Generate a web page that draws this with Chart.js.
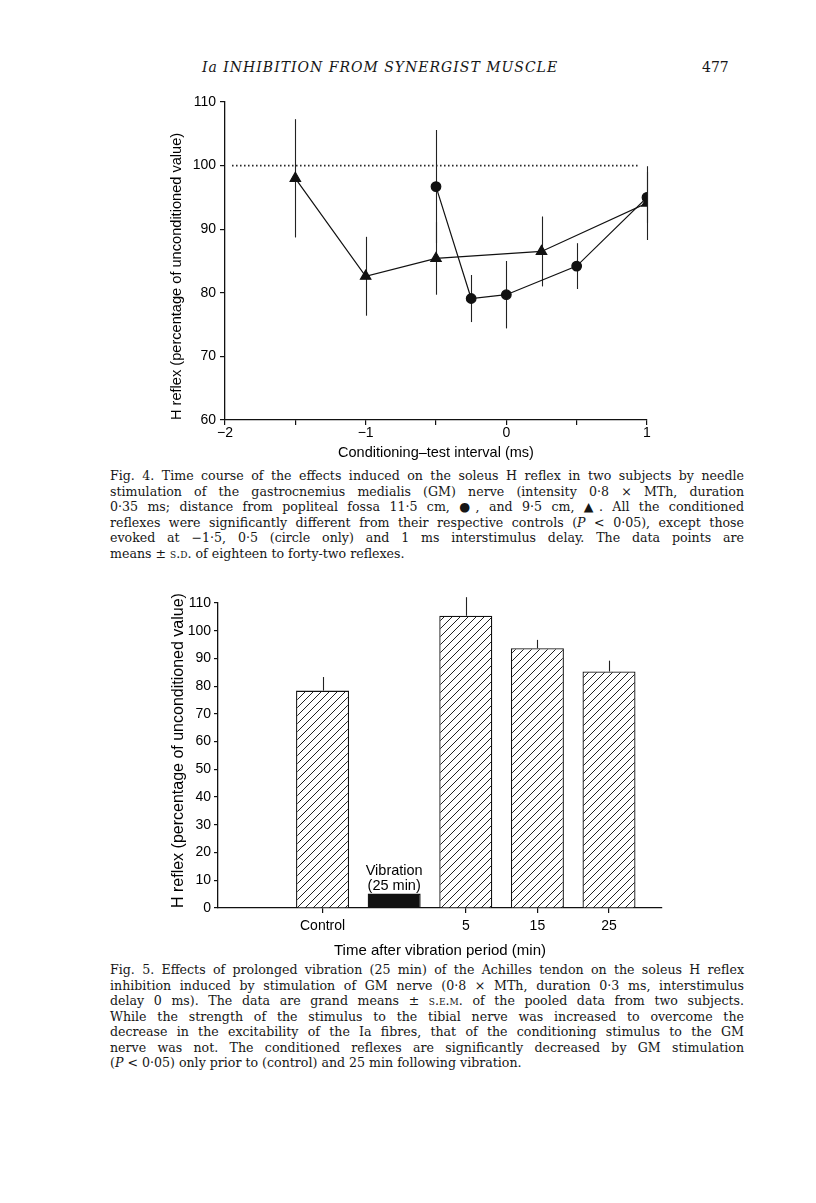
<!DOCTYPE html>
<html>
<head>
<meta charset="utf-8">
<script src="https://cdn.jsdelivr.net/npm/chart.js@4.4.0/dist/chart.umd.min.js"></script>
<style>
  body { margin: 0; background: #fff; width: 816px; height: 1203px; position: relative; overflow: hidden;
         font-family: "DejaVu Serif", serif; color: #161616; }
  .hdr { position: absolute; top: 58px; font-size: 14px; line-height: 18px; }
  .box { position: absolute; }
  .cap { position: absolute; left: 110px; width: 634px; font-size: 12.6px; line-height: 15.5px; }
  .cap div { white-space: nowrap; text-align: justify; text-align-last: justify; }
  .cap div.last { text-align-last: left; }
  .sc { font-variant: small-caps; }
</style>
</head>
<body>
<div class="hdr" style="left:202px;font-style:italic;letter-spacing:1px;">Ia INHIBITION FROM SYNERGIST MUSCLE</div>
<div class="hdr" style="left:702px;">477</div>

<div class="box" style="left:150px;top:80px;"><canvas id="fig4" width="530" height="385"></canvas></div>

<div class="cap" style="top:468px;">
  <div>Fig. 4. Time course of the effects induced on the soleus H reflex in two subjects by needle</div>
  <div>stimulation of the gastrocnemius medialis (GM) nerve (intensity 0·8 × MTh, duration</div>
  <div>0·35 ms; distance from popliteal fossa 11·5 cm, ●, and 9·5 cm, ▲. All the conditioned</div>
  <div>reflexes were significantly different from their respective controls (<i>P</i> &lt; 0·05), except those</div>
  <div>evoked at −1·5, 0·5 (circle only) and 1 ms interstimulus delay. The data points are</div>
  <div class="last">means ± <span class="sc">s.d.</span> of eighteen to forty-two reflexes.</div>
</div>

<div class="box" style="left:140px;top:585px;"><canvas id="fig5" width="540" height="375"></canvas></div>

<div class="cap" style="top:962px;">
  <div>Fig. 5. Effects of prolonged vibration (25 min) of the Achilles tendon on the soleus H reflex</div>
  <div>inhibition induced by stimulation of GM nerve (0·8 × MTh, duration 0·3 ms, interstimulus</div>
  <div>delay 0 ms). The data are grand means ± <span class="sc">s.e.m.</span> of the pooled data from two subjects.</div>
  <div>While the strength of the stimulus to the tibial nerve was increased to overcome the</div>
  <div>decrease in the excitability of the Ia fibres, that of the conditioning stimulus to the GM</div>
  <div>nerve was not. The conditioned reflexes are significantly decreased by GM stimulation</div>
  <div class="last">(<i>P</i> &lt; 0·05) only prior to (control) and 25 min following vibration.</div>
</div>

<script>
// Fig. 4 - triangles (9.5 cm), circles (11.5 cm), means and SD
const triX = [-1.5, -1, -0.5, 0.25, 1];
const triY = [98.0, 82.6, 85.4, 86.5, 94.1];
const triSD = [9.3, 6.2, 5.7, 5.5, 5.8];
const circX = [-0.5, -0.25, 0, 0.5, 1];
const circY = [96.7, 79.1, 79.7, 84.2, 95.0];
const circSD = [8.9, 3.7, 5.3, 3.6, 4.0];
const refX = [-1.95, 0.95];
const refY = [100, 100];

// Fig. 5 - bars, grand means and SEM
const categories = ['Control', 'Vibration', '5', '15', '25'];
const barPos = [1, 2, 3, 4, 5];
const barValues = [78.4, 5.2, 105.4, 93.7, 85.3];
const barSEM = [4.9, 0, 6.7, 3.0, 3.9];
const labelledPos = [1, 3, 4, 5];

const ink = '#111';
const tickFont = { family: 'Liberation Sans', size: 14 };

function pts(xs, ys) {
    return xs.map((x, i) => ({ x: x, y: ys[i] }));
}

function minusLabel(v) {
    if (!Number.isInteger(v)) return '';
    return v < 0 ? '\u2212' + (-v) : String(v);
}

// vertical error bars, drawn under the markers
const errorBars = {
    id: 'errorBars',
    beforeDatasetsDraw(chart) {
        const ctx = chart.ctx;
        const y = chart.scales.y;
        ctx.save();
        ctx.strokeStyle = '#222';
        ctx.lineWidth = 1.1;
        chart.data.datasets.forEach((ds, i) => {
            if (!ds.err) return;
            const meta = chart.getDatasetMeta(i);
            meta.data.forEach((el, j) => {
                const v = ds.data[j].y;
                const e = ds.err[j];
                if (!e) return;
                const lo = ds.upOnly ? v : v - e;
                ctx.beginPath();
                ctx.moveTo(Math.round(el.x) + 0.5, y.getPixelForValue(lo));
                ctx.lineTo(Math.round(el.x) + 0.5, y.getPixelForValue(v + e));
                ctx.stroke();
            });
        });
        ctx.restore();
    }
};

new Chart(document.getElementById('fig4'), {
    type: 'line',
    data: {
        datasets: [
            {
                data: pts(refX, refY),
                borderColor: '#222', borderWidth: 1.6, borderDash: [1.5, 2.5],
                pointRadius: 0
            },
            {
                data: pts(triX, triY), err: triSD,
                borderColor: ink, borderWidth: 1.2,
                pointStyle: 'triangle', pointRadius: 6,
                pointBackgroundColor: ink, pointBorderColor: ink
            },
            {
                data: pts(circX, circY), err: circSD,
                borderColor: ink, borderWidth: 1.2,
                pointStyle: 'circle', pointRadius: 4.8,
                pointBackgroundColor: ink, pointBorderColor: ink
            }
        ]
    },
    options: {
        responsive: false,
        animation: false,
        layout: { padding: { top: 22, right: 33, left: 0, bottom: 0 } },
        plugins: { legend: { display: false }, tooltip: { enabled: false } },
        scales: {
            x: {
                type: 'linear', min: -2, max: 1,
                ticks: { stepSize: 0.5, callback: minusLabel, font: tickFont, color: '#000',
                         padding: 0, maxRotation: 0, autoSkip: false },
                grid: { drawOnChartArea: false, tickLength: 5, color: ink, lineWidth: 1.2 },
                border: { color: ink, width: 1.3 },
                title: { display: true, text: 'Conditioning\u2013test interval (ms)',
                         font: { family: 'Liberation Sans', size: 14.5 }, color: '#000',
                         padding: { top: 0, bottom: 3 } },
                afterFit: s => { s.height = 45; }
            },
            y: {
                min: 60, max: 110,
                ticks: { stepSize: 10, font: tickFont, color: '#000', padding: 4 },
                grid: { drawOnChartArea: false, tickLength: 5, color: ink, lineWidth: 1.2 },
                border: { color: ink, width: 1.3 },
                title: { display: true, text: 'H reflex (percentage of unconditioned value)',
                         align: 'start',
                         font: { family: 'Liberation Sans', size: 14.6 }, color: '#000',
                         padding: { top: 18, bottom: 0 } },
                afterFit: s => { s.width = 75; }
            }
        }
    },
    plugins: [errorBars]
});

// diagonal hatch fill for the bars
function hatchPattern() {
    const c = document.createElement('canvas');
    c.width = 8; c.height = 8;
    const g = c.getContext('2d');
    g.fillStyle = '#fff';
    g.fillRect(0, 0, 8, 8);
    g.strokeStyle = '#222';
    g.lineWidth = 1;
    g.beginPath();
    g.moveTo(0, 8); g.lineTo(8, 0);
    g.moveTo(-1, 1); g.lineTo(1, -1);
    g.moveTo(7, 9); g.lineTo(9, 7);
    g.stroke();
    return g.createPattern(c, 'repeat');
}

const hatch = hatchPattern();

const vibrationLabel = {
    id: 'vibrationLabel',
    afterDatasetsDraw(chart) {
        const el = chart.getDatasetMeta(0).data[1];
        const ctx = chart.ctx;
        ctx.save();
        ctx.fillStyle = '#000';
        ctx.font = '14.5px "Liberation Sans"';
        ctx.textAlign = 'center';
        ctx.textBaseline = 'middle';
        ctx.fillText('Vibration', el.x, el.y - 23);
        ctx.fillText('(25 min)', el.x, el.y - 8);
        ctx.restore();
    }
};

new Chart(document.getElementById('fig5'), {
    type: 'bar',
    data: {
        datasets: [{
            data: pts(barPos, barValues), err: barSEM, upOnly: true,
            backgroundColor: categories.map(c => c === 'Vibration' ? ink : hatch),
            borderColor: ink, borderWidth: 1.3,
            barPercentage: 0.74, categoryPercentage: 1
        }]
    },
    options: {
        responsive: false,
        animation: false,
        layout: { padding: { top: 18, right: 18, left: 0, bottom: 0 } },
        plugins: { legend: { display: false }, tooltip: { enabled: false } },
        scales: {
            x: {
                type: 'linear', min: -0.46, max: 5.74, offset: false,
                afterBuildTicks: s => { s.ticks = labelledPos.map(v => ({ value: v })); },
                ticks: { callback: v => categories[barPos.indexOf(v)], font: tickFont, color: '#000',
                         padding: 5, maxRotation: 0, autoSkip: false },
                grid: { offset: false, drawOnChartArea: false, tickLength: 5, color: ink, lineWidth: 1.2 },
                border: { color: ink, width: 1.3 },
                title: { display: true, text: 'Time after vibration period (min)',
                         font: { family: 'Liberation Sans', size: 15 }, color: '#000',
                         padding: { top: 0, bottom: 0 } },
                afterFit: s => { s.height = 52; }
            },
            y: {
                min: 0, max: 110,
                ticks: { stepSize: 10, font: tickFont, color: '#000', padding: 3 },
                grid: { drawOnChartArea: false, tickLength: 4, color: ink, lineWidth: 1.2 },
                border: { color: ink, width: 1.3 },
                title: { display: true, text: 'H reflex (percentage of unconditioned value)',
                         align: 'start',
                         font: { family: 'Liberation Sans', size: 16 }, color: '#000',
                         padding: { top: 29, bottom: 0 } },
                afterFit: s => { s.width = 78; }
            }
        }
    },
    plugins: [errorBars, vibrationLabel]
});
</script>
</body>
</html>
